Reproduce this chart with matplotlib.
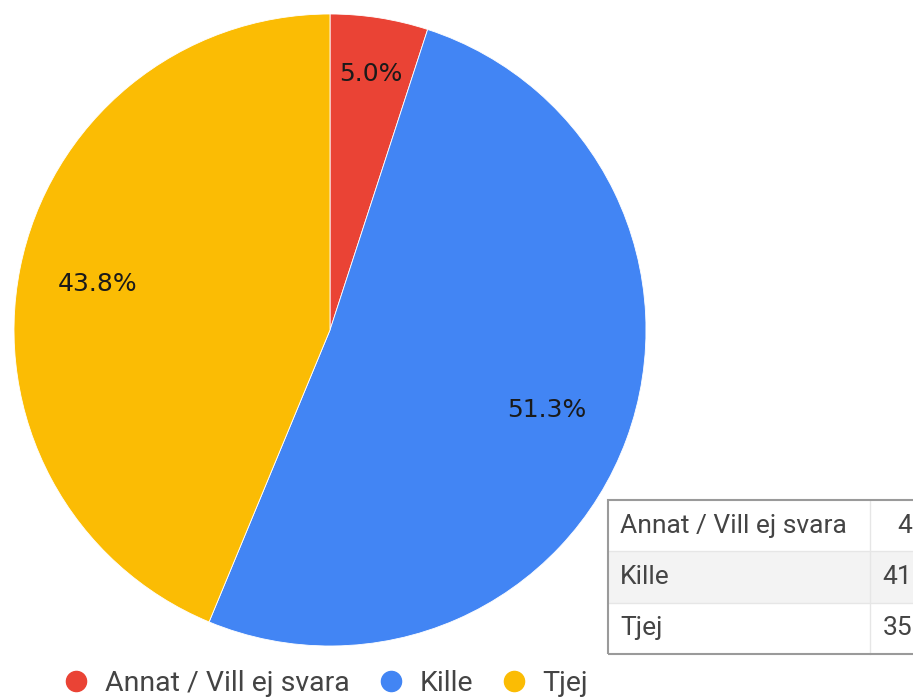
import numpy as np
import matplotlib.pyplot as plt
from matplotlib.lines import Line2D
from matplotlib.patches import Rectangle

# Data
categories = ["Annat / Vill ej svara", "Kille", "Tjej"]
counts = [4, 41, 35]
colors = ["#EA4335", "#4285F4", "#FBBC04"]

W, H = 913, 697
fig = plt.figure(figsize=(W / 100, H / 100), dpi=100)
ax = fig.add_axes([0, 0, 1, 1])


def pct_label(p):
    # round half up like the original (51.25 -> 51.3)
    return "%.1f%%" % (np.floor(p * 10 + 0.5 + 1e-9) / 10)


# pie in pixel units (y measured from bottom)
cx, cy, r = 330, H - 330, 316
wedges, texts, autotexts = ax.pie(counts, colors=colors, startangle=90, counterclock=False,
                                  center=(cx, cy), radius=r, frame=True,
                                  autopct=pct_label, pctdistance=0.75,
                                  wedgeprops=dict(edgecolor="white", linewidth=0.6),
                                  textprops=dict(fontsize=18, color="#1a1a1a", family="DejaVu Sans"))
# google puts the small-slice label a bit further out
label_dist = [0.82, 0.73, 0.75]
for w, t, d in zip(wedges, autotexts, label_dist):
    ang = np.deg2rad((w.theta1 + w.theta2) / 2)
    t.set_position((cx + d * r * np.cos(ang), cy + d * r * np.sin(ang)))

ax.set_xlim(0, W)
ax.set_ylim(0, H)
ax.set_aspect("auto")
ax.axis("off")

# summary table at the lower right (runs off the edge like the original)
tx, ttop, row_h = 608, H - 500, 51.3
col1_w, col2_w = 262, 60
for i, (cat, n) in enumerate(zip(categories, counts)):
    y0 = ttop - (i + 1) * row_h
    bg = "#f3f3f3" if i == 1 else "white"
    ax.add_patch(Rectangle((tx, y0), col1_w + col2_w, row_h, facecolor=bg, edgecolor="none", zorder=3))
    if i > 0:
        ax.plot([tx, tx + col1_w + col2_w], [y0 + row_h, y0 + row_h], color="#e6e6e6", lw=1, zorder=4)
    ax.text(tx + 12, y0 + row_h / 2, cat, fontsize=19, family="Roboto", color="#444444",
            va="center", ha="left", zorder=5)
    ax.text(tx + col1_w + col2_w - 18, y0 + row_h / 2, str(n), fontsize=19, family="Roboto",
            color="#444444", va="center", ha="right", zorder=5)
ax.plot([tx + col1_w, tx + col1_w], [ttop - 3 * row_h, ttop], color="#e6e6e6", lw=1, zorder=4)
ax.add_patch(Rectangle((tx, ttop - 3 * row_h), col1_w + col2_w, 3 * row_h, facecolor="none",
                       edgecolor="#9a9a9a", lw=1.5, zorder=6))

# legend
handles = [Line2D([], [], marker="o", linestyle="none", markersize=14.5, color=c) for c in colors]
leg = ax.legend(handles, categories, loc="lower left", bbox_to_anchor=(62 / W, 0.0), ncol=3,
                frameon=False, handletextpad=0.5, columnspacing=0.95, handlelength=1.0,
                borderpad=0.0, borderaxespad=0.0, prop=dict(family="Roboto", size=20.5))
for t in leg.get_texts():
    t.set_color("#444444")

fig.savefig("out.png", dpi=100)
